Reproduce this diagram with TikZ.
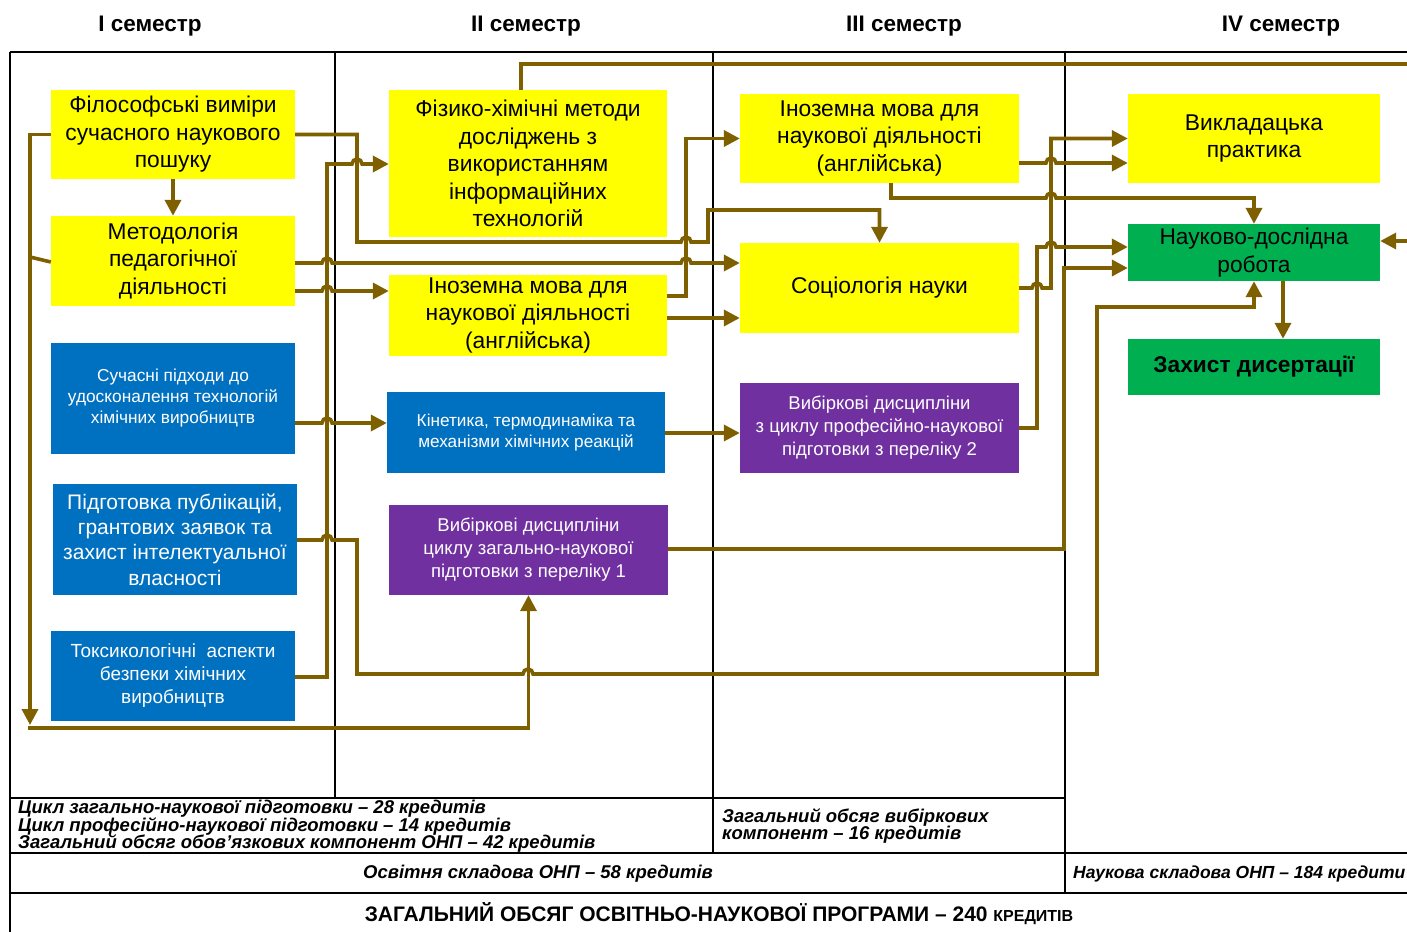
\documentclass[tikz,border=0pt]{standalone}
\usepackage{fontspec}
\setmainfont{Liberation Sans}
\usetikzlibrary{arrows.meta}
\definecolor{brn}{RGB}{127,96,0}
\definecolor{ylw}{RGB}{255,255,0}
\definecolor{blu}{RGB}{0,112,192}
\definecolor{pur}{RGB}{112,48,160}
\definecolor{grn}{RGB}{0,176,80}
\newcommand{\tightln}{\lineskiplimit=-20pt\relax\lineskip=0pt\relax}
\tikzset{
  box/.style={rectangle, inner sep=0pt, align=center, anchor=center},
  ybox/.style={box, fill=ylw, text=black, font=\fontsize{22.8}{27.5}\selectfont},
  bbox/.style={box, fill=blu, text=white},
  pbox/.style={box, fill=pur, text=white, font=\fontsize{18.5}{23}\selectfont},
  gbox/.style={box, fill=grn, text=black, font=\fontsize{22.7}{28}\selectfont},
  conn/.style={draw=brn, line width=3.6pt, -{Triangle[length=16pt,width=16pt]}},
  plain/.style={draw=brn, line width=3.6pt},
  grid/.style={draw=black, line width=1.1pt},
  head/.style={font=\bfseries\fontsize{22.5}{26}\selectfont},
  btxt/.style={inner sep=0pt, font=\bfseries\itshape\fontsize{18.5}{17.5}\selectfont\tightln, align=left},
}
\begin{document}
\begin{tikzpicture}[x=1pt, y=-1pt]
\useasboundingbox (0,0) rectangle (1407,931);
\clip (0,0) rectangle (1407,931);
\fill[white] (0,0) rectangle (1407,931);

% headers
\node[head] (h1) at (150,26) {I семестр};
\node[head] (h2) at (526,26) {II семестр};
\node[head] (h3) at (904,26) {III семестр};
\node[head] (h4) at (1281,26) {IV семестр};

% grid
\draw[grid] (10,52) -- (1412,52);
\draw[grid] (10,52) -- (10,935);
\draw[grid] (335,52) -- (335,798);
\draw[grid] (713,52) -- (713,853);
\draw[grid] (1065,52) -- (1065,893);
\draw[grid] (10,798) -- (1065,798);
\draw[grid] (10,853) -- (1412,853);
\draw[grid] (10,893) -- (1412,893);

% column I
\node[ybox, minimum width=244pt, minimum height=89pt] (phil) at (173,134.5) {Філософські виміри\\сучасного наукового\\пошуку};
\node[ybox, minimum width=244pt, minimum height=90pt] (meth) at (173,261) {Методологія\\педагогічної\\діяльності};
\node[bbox, minimum width=244pt, minimum height=111pt, font=\fontsize{17.3}{21}\selectfont] (such) at (173,398.5) {Сучасні підходи до\\удосконалення технологій\\хімічних виробництв};
\node[bbox, minimum width=244pt, minimum height=111pt, font=\fontsize{21}{25.3}\selectfont] (pidh) at (175,539.5) {Підготовка публікацій,\\грантових заявок та\\захист інтелектуальної\\власності};
\node[bbox, minimum width=244pt, minimum height=90pt, font=\fontsize{19}{23}\selectfont] (toks) at (173,676) {Токсикологічні\ \ аспекти\\безпеки хімічних\\виробництв};

% column II
\node[ybox, minimum width=278pt, minimum height=147pt] (fiz) at (528,163.5) {Фізико-хімічні методи\\досліджень з\\використанням\\інформаційних\\технологій};
\node[ybox, minimum width=278pt, minimum height=81pt] (inoz1) at (528,315.5) {Іноземна мова для\\наукової діяльності\\(англійська)};
\node[bbox, minimum width=278pt, minimum height=81pt, font=\fontsize{17.2}{21}\selectfont] (kin) at (526,432.5) {Кінетика, термодинаміка та\\механізми хімічних реакцій};
\node[pbox, minimum width=279pt, minimum height=90pt] (vyb1) at (528.5,550) {Вибіркові дисципліни\\циклу загально-наукової\\підготовки з переліку 1};

% column III
\node[ybox, minimum width=279pt, minimum height=89pt] (inoz2) at (879.5,138.5) {Іноземна мова для\\наукової діяльності\\(англійська)};
\node[ybox, minimum width=279pt, minimum height=90pt] (soc) at (879.5,288) {Соціологія науки};
\node[pbox, minimum width=279pt, minimum height=90pt] (vyb2) at (879.5,428) {Вибіркові дисципліни\\з циклу професійно-наукової\\підготовки з переліку 2};

% column IV
\node[ybox, minimum width=252pt, minimum height=89pt] (vykl) at (1254,138.5) {Викладацька\\практика};
\node[gbox, minimum width=252pt, minimum height=57pt] (nauk) at (1254,252.5) {Науково-дослідна\\робота};
\node[gbox, minimum width=252pt, minimum height=56pt, font=\bfseries\fontsize{22.7}{28}\selectfont] (zakh) at (1254,367) {Захист дисертації};

% free ends
\coordinate (ldown) at (30,725);
\coordinate (lmeet) at (30,257);
\coordinate (lbot) at (28,728);

% connectors
\draw[conn] (phil.south) -- (meth.north);
\draw[conn] (phil.west) -- (30,134.5) -- (ldown);
\draw[plain] (meth.west |- 0,262) -- (lmeet);
\draw[conn] (lbot) -| (vyb1.south);
\draw[conn] (phil.east) -- (357,134.5) -- (357,242) -- (681,242) arc[start angle=180,end angle=0,radius=5pt] -- (708,242) -- (708,210) -| (soc.north);
\draw[conn] (toks.east |- 0,677) -- (327,677) -- (327,164) -- (352,164) arc[start angle=180,end angle=0,radius=5pt] -- (fiz.west |- 0,164);
\draw[conn] (meth.east |- 0,263) -- (322,263) arc[start angle=180,end angle=0,radius=5pt] -- (681,263) arc[start angle=180,end angle=0,radius=5pt] -- (soc.west |- 0,263);
\draw[conn] (meth.east |- 0,291) -- (322,291) arc[start angle=180,end angle=0,radius=5pt] -- (inoz1.west |- 0,291);
\draw[conn] (such.east |- 0,423) -- (322,423) arc[start angle=180,end angle=0,radius=5pt] -- (kin.west |- 0,423);
\draw[conn] (pidh.east |- 0,540) -- (322,540) arc[start angle=180,end angle=0,radius=5pt] -- (357,540) -- (357,674) -- (523,674) arc[start angle=180,end angle=0,radius=5pt] -- (1097,674) -- (1097,307) -| (nauk.south);
\draw[conn] (fiz.north -| 521,0) -- (521,64) -- (1430,64) -- (1430,241) -- (nauk.east |- 0,241);
\draw[conn] (inoz1.east |- 0,296) -- (686,296) -- (686,138.5) -- (inoz2.west);
\draw[conn] (inoz1.east |- 0,318) -- (soc.west |- 0,318);
\draw[conn] (kin.east |- 0,433) -- (vyb2.west |- 0,433);
\draw[conn] (vyb1.east |- 0,549) -- (1064,549) -- (1064,268) -- (nauk.west |- 0,268);
\draw[conn] (vyb2.east) -- (1037,428) -- (1037,247) -- (1046,247) arc[start angle=180,end angle=0,radius=5pt] -- (nauk.west |- 0,247);
\draw[conn] (soc.east) -- (1032,288) arc[start angle=180,end angle=0,radius=5pt] -- (1051,288) -- (1051,138.5) -- (vykl.west);
\draw[conn] (inoz2.east |- 0,163) -- (1046,163) arc[start angle=180,end angle=0,radius=5pt] -- (vykl.west |- 0,163);
\draw[conn] (inoz2.south -| 891,0) -- (891,198) -- (1046,198) arc[start angle=180,end angle=0,radius=5pt] -- (1254,198) -- (nauk.north);
\draw[conn] (nauk.south -| 1283,0) -- (zakh.north -| 1283,0);

% bottom texts
\node[btxt, anchor=north west] (t1) at (18,800) {Цикл загально-наукової підготовки – 28 кредитів\\Цикл професійно-наукової підготовки – 14 кредитів\\Загальний обсяг обов'язкових компонент ОНП – 42 кредитів};
\node[btxt, anchor=west] (t2) at (722,826) {Загальний обсяг вибіркових\\компонент – 16 кредитів};
\node[btxt] (t3) at (538,874) {Освітня складова ОНП – 58 кредитів};
\node[btxt, anchor=west, font=\bfseries\itshape\fontsize{17.5}{20}\selectfont] (t4) at (1073,874) {Наукова складова ОНП – 184 кредити};
\node[inner sep=0pt, font=\bfseries\fontsize{21}{24}\selectfont] (t5) at (719,914) {ЗАГАЛЬНИЙ ОБСЯГ ОСВІТНЬО-НАУКОВОЇ ПРОГРАМИ – 240 {\fontsize{16}{18}\selectfont КРЕДИТІВ}};
\end{tikzpicture}
\end{document}
